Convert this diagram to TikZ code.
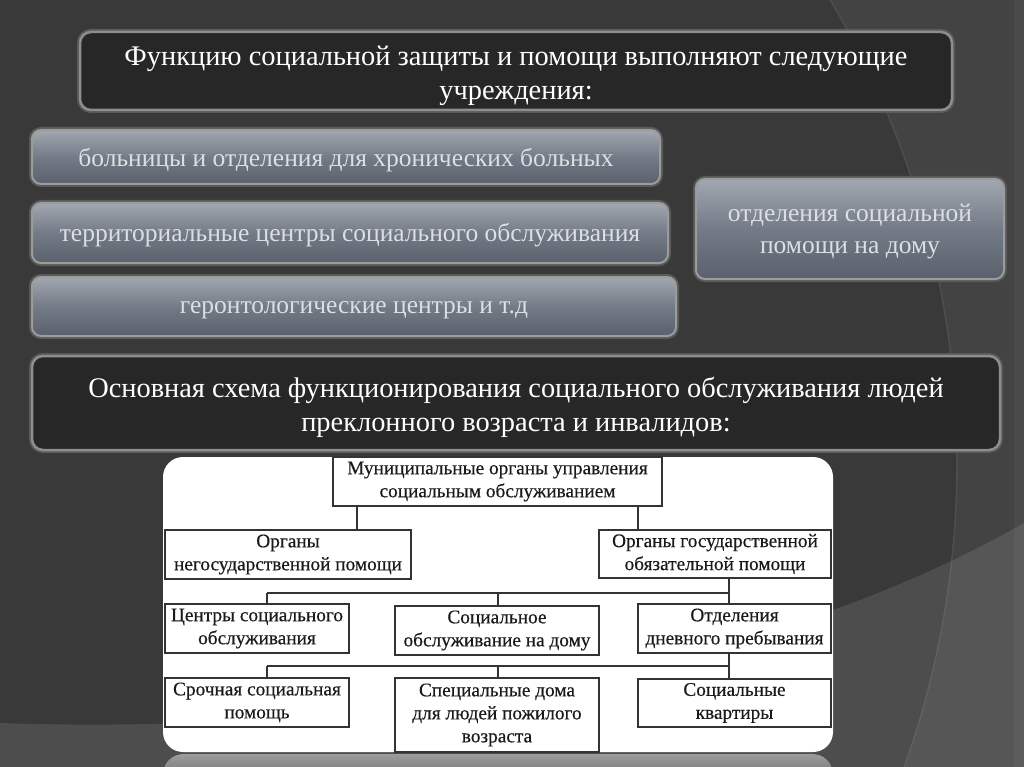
\documentclass[tikz,border=0pt]{standalone}
\usepackage{fontspec}
\setmainfont{Liberation Serif}
\newfontfamily\orgfont[FakeBold=0.35]{Liberation Serif}
\definecolor{bgout}{HTML}{434343}
\definecolor{bgin}{HTML}{393939}
\definecolor{arcline}{HTML}{4E4E4E}
\definecolor{titlefill}{HTML}{272727}
\definecolor{titleborder}{HTML}{8E8E8E}
\definecolor{glow}{HTML}{5A5A5A}
\definecolor{grayborder}{HTML}{9C9C9C}
\definecolor{gtop}{HTML}{A2A8B0}
\definecolor{gmid}{HTML}{737B87}
\definecolor{gbot}{HTML}{5A616C}
\definecolor{gtext}{HTML}{DCDFE3}
\definecolor{orgline}{HTML}{333333}
\definecolor{orgtext}{HTML}{1A1A1A}
\definecolor{refltop}{HTML}{9C9C9C}
\definecolor{reflbot}{HTML}{505050}
\begin{document}
\begin{tikzpicture}[x=1pt,y=-1pt,
  titlebox/.style={draw=titleborder, line width=2.5pt, fill=titlefill,
    rounded corners=11pt, inner sep=0pt,
    preaction={draw=glow, line width=6pt}},
  titletext/.style={inner sep=0pt, align=center, text=white,
    font=\fontsize{28.4}{34}\selectfont},
  graybox/.style={draw=grayborder, line width=2pt, rounded corners=9pt,
    top color=gtop, bottom color=gbot, middle color=gmid, inner sep=0pt,
    preaction={draw=glow, line width=6pt}},
  graytext/.style={inner sep=0pt, align=center, text=gtext,
    font=\fontsize{25.5}{32}\selectfont},
  orgbox/.style={draw=orgline, line width=1.1pt, fill=white, inner sep=0pt,
    align=center, text=orgtext, font=\orgfont\fontsize{19.3}{23}\selectfont},
  link/.style={draw=orgline, line width=1.1pt}]
\useasboundingbox (0,0) rectangle (1024,767);
\clip (0,0) rectangle (1024,767);

% background
\fill[bgout] (0,0) rectangle (1024,767);
\fill[bgin] (53,462) circle[radius=904pt];
\draw[arcline, line width=1.5pt] (53,462) circle[radius=904pt];
\fill[white, opacity=0.1] (0,723) .. controls (350,735) and (750,680) .. (1024,523)
  -- (1024,767) -- (0,767) -- cycle;
\fill[white, opacity=0.04] (1014,0) rectangle (1024,767);

% top title
\node[titlebox, minimum width=872pt, minimum height=78pt] (t1) at (516,71) {};
\node[titletext] (t1txt) at ([yshift=-5pt]t1.center)
  {Функцию социальной защиты и помощи выполняют следующие\\учреждения:};

% gray boxes
\node[graybox, minimum width=628pt, minimum height=54pt] (b1) at (346,157) {};
\node[graytext] (b1txt) at ([yshift=-3pt]b1.center)
  {больницы и отделения для хронических больных};
\node[graybox, minimum width=636pt, minimum height=60pt] (b2) at (350,233) {};
\node[graytext] (b2txt) at ([yshift=-2pt]b2.center)
  {территориальные центры социального обслуживания};
\node[graybox, minimum width=644pt, minimum height=59pt] (b3) at (354,306.5) {};
\node[graytext] (b3txt) at ([yshift=-4pt]b3.center)
  {геронтологические центры и т.д};
\node[graybox, minimum width=308pt, minimum height=100pt] (r1) at (850,229) {};
\node[graytext] (r1txt) at ([yshift=-3pt]r1.center)
  {отделения социальной\\помощи на дому};

% second title
\node[titlebox, minimum width=968pt, minimum height=94pt] (t2) at (516,403) {};
\node[titletext] (t2txt) at ([yshift=-4pt]t2.center)
  {Основная схема функционирования социального обслуживания людей\\преклонного возраста и инвалидов:};

% white panel and reflection
\fill[rounded corners=20pt, top color=refltop, bottom color=reflbot] (163,754) rectangle (833,800);
\fill[white, rounded corners=20pt] (163,457) rectangle (833,752);

% chart
\node[orgbox, minimum width=329pt, minimum height=49pt] (m) at (497.5,481.5)
  {Муниципальные органы управления\\социальным обслуживанием};
\node[orgbox, minimum width=246pt, minimum height=49pt] (ng) at (288,554.5)
  {Органы\\негосударственной помощи};
\node[orgbox, minimum width=232pt, minimum height=48pt] (g) at (715,554)
  {Органы государственной\\обязательной помощи};
\node[orgbox, minimum width=184pt, minimum height=49pt] (c1) at (257,628.5)
  {Центры социального\\обслуживания};
\node[orgbox, minimum width=204pt, minimum height=49pt] (c2) at (497,630.5)
  {Социальное\\обслуживание на дому};
\node[orgbox, minimum width=193pt, minimum height=49pt] (c3) at (734.5,628.5)
  {Отделения\\дневного пребывания};
\node[orgbox, minimum width=184pt, minimum height=49pt] (d1) at (257,702.5)
  {Срочная социальная\\помощь};
\node[orgbox, minimum width=204pt, minimum height=74pt] (d2) at (497,715)
  {Специальные дома\\для людей пожилого\\возраста};
\node[orgbox, minimum width=193pt, minimum height=48pt] (d3) at (734.5,703)
  {Социальные\\квартиры};

\coordinate (j1) at (357,0);
\coordinate (j2) at (638,0);
\coordinate (j3) at (729,0);
\coordinate (j4) at (267,0);
\coordinate (j5) at (498,0);
\coordinate (bus1) at (0,593);
\coordinate (bus2) at (0,666);

\draw[link] (j1 |- m.south) -- (j1 |- ng.north);
\draw[link] (j2 |- m.south) -- (j2 |- g.north);
\draw[link] (j3 |- g.south) -- (j3 |- c3.north);
\draw[link] (j4 |- bus1) -- (j3 |- bus1);
\draw[link] (j4 |- bus1) -- (j4 |- c1.north);
\draw[link] (j5 |- bus1) -- (j5 |- c2.north);
\draw[link] (j3 |- c3.south) -- (j3 |- d3.north);
\draw[link] (j4 |- bus2) -- (j3 |- bus2);
\draw[link] (j4 |- bus2) -- (j4 |- d1.north);
\draw[link] (j5 |- bus2) -- (j5 |- d2.north);
\end{tikzpicture}
\end{document}
